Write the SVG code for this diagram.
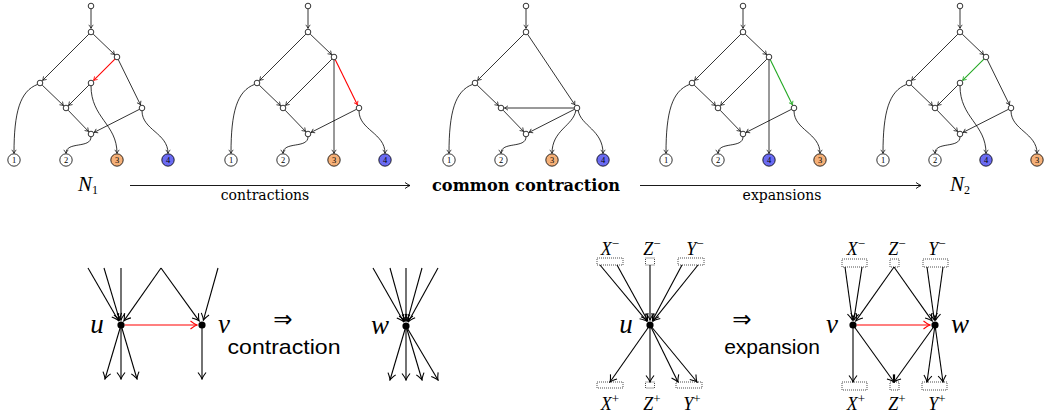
<svg xmlns="http://www.w3.org/2000/svg" width="1044" height="419" viewBox="0 0 1044 419">
<style>
.e{fill:none;stroke:#000;stroke-width:0.8;marker-end:url(#ta)}
.er{fill:none;stroke:#f00;stroke-width:1.1;marker-end:url(#tr)}
.eg{fill:none;stroke:#22a822;stroke-width:1.1;marker-end:url(#tg)}
.n{fill:#fff;stroke:#000;stroke-width:0.8}
.lf{fill:#fff;stroke:#000;stroke-width:0.8}
.o{fill:#f5b078}
.b{fill:#6b6bf2}
.lt{font-family:"Liberation Serif",serif;font-size:8.5px;text-anchor:middle}
.be{fill:none;stroke:#000;stroke-width:1.1;marker-end:url(#ba)}
.ber{fill:none;stroke:#f00;stroke-width:1.1;marker-end:url(#br)}
.bl{fill:none;stroke:#000;stroke-width:0.9;marker-end:url(#la)}
.dot{fill:#000}
.box{fill:none;stroke:#000;stroke-width:0.7;stroke-dasharray:1 1}
.mi{font-family:"Liberation Serif",serif;font-style:italic;text-anchor:middle}
.sr{font-family:"DejaVu Serif",serif;text-anchor:middle}
.ss{font-family:"Liberation Sans",sans-serif;text-anchor:middle}
.ar{font-family:"DejaVu Sans",sans-serif;text-anchor:middle}
</style>
<defs>
<marker id="ta" markerUnits="userSpaceOnUse" viewBox="-5 -3 6 6" markerWidth="6" markerHeight="6" refX="0" refY="0" orient="auto"><path d="M-3.5,-2.2Q-1,-0.4 0,0Q-1,0.4 -3.5,2.2" fill="none" stroke="#000" stroke-width="0.7"/></marker>
<marker id="tr" markerUnits="userSpaceOnUse" viewBox="-5 -3 6 6" markerWidth="6" markerHeight="6" refX="0" refY="0" orient="auto"><path d="M-3.5,-2.2Q-1,-0.4 0,0Q-1,0.4 -3.5,2.2" fill="none" stroke="#f00" stroke-width="0.8"/></marker>
<marker id="tg" markerUnits="userSpaceOnUse" viewBox="-5 -3 6 6" markerWidth="6" markerHeight="6" refX="0" refY="0" orient="auto"><path d="M-3.5,-2.2Q-1,-0.4 0,0Q-1,0.4 -3.5,2.2" fill="none" stroke="#22a822" stroke-width="0.8"/></marker>
<marker id="ba" markerUnits="userSpaceOnUse" viewBox="-8 -5 9 10" markerWidth="9" markerHeight="10" refX="0" refY="0" orient="auto"><path d="M-6.5,-4Q-2,-0.6 0,0Q-2,0.6 -6.5,4" fill="none" stroke="#000" stroke-width="1.1"/></marker>
<marker id="br" markerUnits="userSpaceOnUse" viewBox="-8 -5 9 10" markerWidth="9" markerHeight="10" refX="0" refY="0" orient="auto"><path d="M-6.5,-4Q-2,-0.6 0,0Q-2,0.6 -6.5,4" fill="none" stroke="#f00" stroke-width="1.1"/></marker>
<marker id="la" markerUnits="userSpaceOnUse" viewBox="-8 -5 9 10" markerWidth="9" markerHeight="10" refX="0" refY="0" orient="auto"><path d="M-5,-3Q-1.5,-0.5 0,0Q-1.5,0.5 -5,3" fill="none" stroke="#000" stroke-width="0.9"/></marker>
</defs>

<g id="connectors">
 <g id="c-p1">
  <path class="e" d="M91,9V28.3"/>
  <path class="e" d="M88.9,34.1L42.6,80.4"/>
  <path class="e" d="M37.6,84.4C20,91 14,112 14,153.3"/>
  <path class="e" d="M42.2,85.1L63.5,105.6"/>
  <path class="e" d="M68.1,110.2L88.6,131.5"/>
  <path class="e" d="M139.3,109.4L94.1,132.4"/>
  <path class="e" d="M91,136.8C91,149 66,141 66,153.3"/>
  <path class="e" d="M93.2,34.1L114.6,54.6"/>
  <path class="er" d="M114.9,59.1L93.6,80.4"/>
  <path class="e" d="M118.3,59.7L140.5,104.9"/>
  <path class="e" d="M88.9,85.1L68.5,105.5"/>
  <path class="e" d="M91,85.8C91,118 117,124 117,153.3"/>
  <path class="e" d="M142,110.8C142,130 168,133 168,153.3"/>
 </g>
 <g id="c-p2" transform="translate(217,0)">
  <path class="e" d="M91,9V28.3"/>
  <path class="e" d="M88.9,34.1L42.6,80.4"/>
  <path class="e" d="M37.6,84.4C20,91 14,112 14,153.3"/>
  <path class="e" d="M42.2,85.1L63.5,105.6"/>
  <path class="e" d="M68.1,110.2L88.6,131.5"/>
  <path class="e" d="M139.3,109.4L94.1,132.4"/>
  <path class="e" d="M91,136.8C91,149 66,141 66,153.3"/>
  <path class="e" d="M93.2,34.1L114.6,54.6"/>
  <path class="e" d="M114.9,59.1L68.6,105.4"/>
  <path class="e" d="M117,59.8V153.3"/>
  <path class="er" d="M118.3,59.7L140.5,104.9"/>
  <path class="e" d="M142,110.8C142,130 168,133 168,153.3"/>
 </g>
 <g id="c-p3" transform="translate(435,0)">
  <path class="e" d="M91,9V28.3"/>
  <path class="e" d="M88.9,34.1L42.6,80.4"/>
  <path class="e" d="M37.6,84.4C20,91 14,112 14,153.3"/>
  <path class="e" d="M42.2,85.1L63.5,105.6"/>
  <path class="e" d="M68.1,110.2L88.6,131.5"/>
  <path class="e" d="M139.3,109.4L94.1,132.4"/>
  <path class="e" d="M91,136.8C91,149 66,141 66,153.3"/>
  <path class="e" d="M92.6,34.3L139.9,104.9"/>
  <path class="e" d="M139.2,108H69.5"/>
  <path class="e" d="M140.8,110.6C138,126 117,130 117,153.3"/>
  <path class="e" d="M143.2,110.6C146,126 168,130 168,153.3"/>
 </g>
 <g id="c-p4" transform="translate(652,0)">
  <path class="e" d="M91,9V28.3"/>
  <path class="e" d="M88.9,34.1L42.6,80.4"/>
  <path class="e" d="M37.6,84.4C20,91 14,112 14,153.3"/>
  <path class="e" d="M42.2,85.1L63.5,105.6"/>
  <path class="e" d="M68.1,110.2L88.6,131.5"/>
  <path class="e" d="M139.3,109.4L94.1,132.4"/>
  <path class="e" d="M91,136.8C91,149 66,141 66,153.3"/>
  <path class="e" d="M93.2,34.1L114.6,54.6"/>
  <path class="e" d="M114.9,59.1L68.6,105.4"/>
  <path class="e" d="M117,59.8V153.3"/>
  <path class="eg" d="M118.3,59.7L140.5,104.9"/>
  <path class="e" d="M142,110.8C142,130 168,133 168,153.3"/>
 </g>
 <g id="c-p5" transform="translate(869,0)">
  <path class="e" d="M91,9V28.3"/>
  <path class="e" d="M88.9,34.1L42.6,80.4"/>
  <path class="e" d="M37.6,84.4C20,91 14,112 14,153.3"/>
  <path class="e" d="M42.2,85.1L63.5,105.6"/>
  <path class="e" d="M68.1,110.2L88.6,131.5"/>
  <path class="e" d="M139.3,109.4L94.1,132.4"/>
  <path class="e" d="M91,136.8C91,149 66,141 66,153.3"/>
  <path class="e" d="M93.2,34.1L114.6,54.6"/>
  <path class="eg" d="M114.9,59.1L93.6,80.4"/>
  <path class="e" d="M118.3,59.7L140.5,104.9"/>
  <path class="e" d="M88.9,85.1L68.5,105.5"/>
  <path class="e" d="M91,85.8C91,118 117,124 117,153.3"/>
  <path class="e" d="M142,110.8C142,130 168,133 168,153.3"/>
 </g>
 <g id="c-long">
  <path class="bl" d="M130,185.5H410"/>
  <path class="bl" d="M640,185.5H921"/>
 </g>
 <g id="c-contraction">
  <path class="be" d="M88,268L118.5,320.7"/>
  <path class="be" d="M104,268L119.6,320.2"/>
  <path class="be" d="M121,268V320"/>
  <path class="be" d="M161,268L123.9,320.9"/>
  <path class="be" d="M161,268L199.1,320.9"/>
  <path class="be" d="M218,268L203.4,320.2"/>
  <path class="be" d="M121,325L105,379"/>
  <path class="be" d="M121,325V379"/>
  <path class="be" d="M121,325L137,379"/>
  <path class="be" d="M202,325V379"/>
  <path class="ber" d="M124.5,325H197"/>
  <path class="be" d="M373,268L403.5,321.6"/>
  <path class="be" d="M390,268L404.7,321.2"/>
  <path class="be" d="M406,268V321"/>
  <path class="be" d="M422,268L407.3,321.2"/>
  <path class="be" d="M438,268L408.5,321.6"/>
  <path class="be" d="M406,326L390,380"/>
  <path class="be" d="M406,326V380"/>
  <path class="be" d="M406,326L422,380"/>
  <path class="be" d="M406,326L438,380"/>
 </g>
 <g id="c-expansion">
  <path class="be" d="M600,265L646.8,321.2"/>
  <path class="be" d="M617,265L647.6,320.6"/>
  <path class="be" d="M650,265V320"/>
  <path class="be" d="M682,265L652.4,320.6"/>
  <path class="be" d="M698,265L653.1,321.1"/>
  <path class="be" d="M650,325L610,382"/>
  <path class="be" d="M650,325V382"/>
  <path class="be" d="M650,325L678,382"/>
  <path class="be" d="M650,325L697,382"/>
  <path class="be" d="M845,267L852.3,320"/>
  <path class="be" d="M862,267L853.8,320.1"/>
  <path class="be" d="M894,267L855.9,320.9"/>
  <path class="be" d="M894,267L932.1,320.9"/>
  <path class="be" d="M927,267L934.3,320"/>
  <path class="be" d="M943,267L935.7,320"/>
  <path class="be" d="M853,325V382"/>
  <path class="be" d="M853,325L894,382"/>
  <path class="be" d="M935,325L894,382"/>
  <path class="be" d="M935,325L927,382"/>
  <path class="be" d="M935,325L943,382"/>
  <path class="ber" d="M856.5,325H930"/>
 </g>
</g>

<g id="panel1">
 <g id="p1-R"><circle class="n" cx="91" cy="6" r="2.8"/></g>
 <g id="p1-A"><circle class="n" cx="91" cy="32" r="2.8"/></g>
 <g id="p1-B"><circle class="n" cx="117" cy="57" r="2.8"/></g>
 <g id="p1-C"><circle class="n" cx="40" cy="83" r="2.8"/></g>
 <g id="p1-D"><circle class="n" cx="91" cy="83" r="2.8"/></g>
 <g id="p1-E"><circle class="n" cx="66" cy="108" r="2.8"/></g>
 <g id="p1-F"><circle class="n" cx="142" cy="108" r="2.8"/></g>
 <g id="p1-G"><circle class="n" cx="91" cy="134" r="2.8"/></g>
 <g id="p1-L1"><circle class="lf" cx="14" cy="160" r="6.2"/><text class="lt" x="14" y="163">1</text></g>
 <g id="p1-L2"><circle class="lf" cx="66" cy="160" r="6.2"/><text class="lt" x="66" y="163">2</text></g>
 <g id="p1-L3"><circle class="lf o" cx="117" cy="160" r="6.2"/><text class="lt" x="117" y="163">3</text></g>
 <g id="p1-L4"><circle class="lf b" cx="168" cy="160" r="6.2"/><text class="lt" x="168" y="163">4</text></g>
</g>
<g id="panel2" transform="translate(217,0)">
 <g id="p2-R"><circle class="n" cx="91" cy="6" r="2.8"/></g>
 <g id="p2-A"><circle class="n" cx="91" cy="32" r="2.8"/></g>
 <g id="p2-B"><circle class="n" cx="117" cy="57" r="2.8"/></g>
 <g id="p2-C"><circle class="n" cx="40" cy="83" r="2.8"/></g>
 <g id="p2-E"><circle class="n" cx="66" cy="108" r="2.8"/></g>
 <g id="p2-F"><circle class="n" cx="142" cy="108" r="2.8"/></g>
 <g id="p2-G"><circle class="n" cx="91" cy="134" r="2.8"/></g>
 <g id="p2-L1"><circle class="lf" cx="14" cy="160" r="6.2"/><text class="lt" x="14" y="163">1</text></g>
 <g id="p2-L2"><circle class="lf" cx="66" cy="160" r="6.2"/><text class="lt" x="66" y="163">2</text></g>
 <g id="p2-L3"><circle class="lf o" cx="117" cy="160" r="6.2"/><text class="lt" x="117" y="163">3</text></g>
 <g id="p2-L4"><circle class="lf b" cx="168" cy="160" r="6.2"/><text class="lt" x="168" y="163">4</text></g>
</g>
<g id="panel3" transform="translate(435,0)">
 <g id="p3-R"><circle class="n" cx="91" cy="6" r="2.8"/></g>
 <g id="p3-A"><circle class="n" cx="91" cy="32" r="2.8"/></g>
 <g id="p3-C"><circle class="n" cx="40" cy="83" r="2.8"/></g>
 <g id="p3-E"><circle class="n" cx="66" cy="108" r="2.8"/></g>
 <g id="p3-F"><circle class="n" cx="142" cy="108" r="2.8"/></g>
 <g id="p3-G"><circle class="n" cx="91" cy="134" r="2.8"/></g>
 <g id="p3-L1"><circle class="lf" cx="14" cy="160" r="6.2"/><text class="lt" x="14" y="163">1</text></g>
 <g id="p3-L2"><circle class="lf" cx="66" cy="160" r="6.2"/><text class="lt" x="66" y="163">2</text></g>
 <g id="p3-L3"><circle class="lf o" cx="117" cy="160" r="6.2"/><text class="lt" x="117" y="163">3</text></g>
 <g id="p3-L4"><circle class="lf b" cx="168" cy="160" r="6.2"/><text class="lt" x="168" y="163">4</text></g>
</g>
<g id="panel4" transform="translate(652,0)">
 <g id="p4-R"><circle class="n" cx="91" cy="6" r="2.8"/></g>
 <g id="p4-A"><circle class="n" cx="91" cy="32" r="2.8"/></g>
 <g id="p4-B"><circle class="n" cx="117" cy="57" r="2.8"/></g>
 <g id="p4-C"><circle class="n" cx="40" cy="83" r="2.8"/></g>
 <g id="p4-E"><circle class="n" cx="66" cy="108" r="2.8"/></g>
 <g id="p4-F"><circle class="n" cx="142" cy="108" r="2.8"/></g>
 <g id="p4-G"><circle class="n" cx="91" cy="134" r="2.8"/></g>
 <g id="p4-L1"><circle class="lf" cx="14" cy="160" r="6.2"/><text class="lt" x="14" y="163">1</text></g>
 <g id="p4-L2"><circle class="lf" cx="66" cy="160" r="6.2"/><text class="lt" x="66" y="163">2</text></g>
 <g id="p4-L4"><circle class="lf b" cx="117" cy="160" r="6.2"/><text class="lt" x="117" y="163">4</text></g>
 <g id="p4-L3"><circle class="lf o" cx="168" cy="160" r="6.2"/><text class="lt" x="168" y="163">3</text></g>
</g>
<g id="panel5" transform="translate(869,0)">
 <g id="p5-R"><circle class="n" cx="91" cy="6" r="2.8"/></g>
 <g id="p5-A"><circle class="n" cx="91" cy="32" r="2.8"/></g>
 <g id="p5-B"><circle class="n" cx="117" cy="57" r="2.8"/></g>
 <g id="p5-C"><circle class="n" cx="40" cy="83" r="2.8"/></g>
 <g id="p5-D"><circle class="n" cx="91" cy="83" r="2.8"/></g>
 <g id="p5-E"><circle class="n" cx="66" cy="108" r="2.8"/></g>
 <g id="p5-F"><circle class="n" cx="142" cy="108" r="2.8"/></g>
 <g id="p5-G"><circle class="n" cx="91" cy="134" r="2.8"/></g>
 <g id="p5-L1"><circle class="lf" cx="14" cy="160" r="6.2"/><text class="lt" x="14" y="163">1</text></g>
 <g id="p5-L2"><circle class="lf" cx="66" cy="160" r="6.2"/><text class="lt" x="66" y="163">2</text></g>
 <g id="p5-L4"><circle class="lf b" cx="117" cy="160" r="6.2"/><text class="lt" x="117" y="163">4</text></g>
 <g id="p5-L3"><circle class="lf o" cx="168" cy="160" r="6.2"/><text class="lt" x="168" y="163">3</text></g>
</g>

<g id="labels-top">
 <text class="mi" x="88" y="191" font-size="21">N<tspan font-size="12" dy="3" font-style="normal">1</tspan></text>
 <text class="mi" x="960" y="191" font-size="21">N<tspan font-size="12" dy="3" font-style="normal">2</tspan></text>
 <text class="sr" x="265" y="200" font-size="14">contractions</text>
 <text class="sr" x="526" y="191" font-size="16" font-weight="bold" textLength="188" lengthAdjust="spacingAndGlyphs">common contraction</text>
 <text class="sr" x="782" y="200" font-size="14">expansions</text>
</g>

<g id="contraction-diagram">
 <g id="n-u1"><circle class="dot" cx="121" cy="325" r="3.6"/><text class="mi" x="97" y="333" font-size="27">u</text></g>
 <g id="n-v1"><circle class="dot" cx="202" cy="325" r="3.6"/><text class="mi" x="224" y="333" font-size="27">v</text></g>
 <text class="ar" x="283" y="327" font-size="23">⇒</text>
 <text class="ss" x="284" y="354" font-size="21" textLength="113" lengthAdjust="spacingAndGlyphs">contraction</text>
 <g id="n-w1"><circle class="dot" cx="406" cy="326" r="3.6"/><text class="mi" x="380" y="334" font-size="27">w</text></g>
</g>

<g id="expansion-diagram">
 <g id="n-u2"><circle class="dot" cx="650" cy="325" r="3.6"/><text class="mi" x="626" y="333" font-size="27">u</text></g>
 <text class="ar" x="742" y="327" font-size="23">⇒</text>
 <text class="ss" x="772" y="354" font-size="21">expansion</text>
 <g id="n-v2"><circle class="dot" cx="853" cy="325" r="3.6"/><text class="mi" x="832" y="333" font-size="27">v</text></g>
 <g id="n-w2"><circle class="dot" cx="935" cy="325" r="3.6"/><text class="mi" x="960" y="333" font-size="27">w</text></g>
 <g id="boxes">
  <rect class="box" x="597" y="258" width="26" height="7"/>
  <rect class="box" x="645.5" y="258" width="9" height="7"/>
  <rect class="box" x="678" y="258" width="26" height="7"/>
  <rect class="box" x="597" y="382" width="26" height="6"/>
  <rect class="box" x="645.5" y="382" width="9" height="6"/>
  <rect class="box" x="676" y="382" width="26" height="6"/>
  <rect class="box" x="842" y="259" width="25" height="8"/>
  <rect class="box" x="890" y="259" width="9" height="8"/>
  <rect class="box" x="923" y="259" width="25" height="8"/>
  <rect class="box" x="842" y="382" width="25" height="8"/>
  <rect class="box" x="890" y="382" width="9" height="8"/>
  <rect class="box" x="922" y="382" width="25" height="8"/>
 </g>
 <g id="set-labels" font-size="18">
  <text class="mi" x="610" y="255">X<tspan font-size="13" dy="-7" font-style="normal">−</tspan></text>
  <text class="mi" x="652" y="255">Z<tspan font-size="13" dy="-7" font-style="normal">−</tspan></text>
  <text class="mi" x="695" y="255">Y<tspan font-size="13" dy="-7" font-style="normal">−</tspan></text>
  <text class="mi" x="610" y="410">X<tspan font-size="13" dy="-7" font-style="normal">+</tspan></text>
  <text class="mi" x="652" y="410">Z<tspan font-size="13" dy="-7" font-style="normal">+</tspan></text>
  <text class="mi" x="692" y="410">Y<tspan font-size="13" dy="-7" font-style="normal">+</tspan></text>
  <text class="mi" x="856" y="255">X<tspan font-size="13" dy="-7" font-style="normal">−</tspan></text>
  <text class="mi" x="897" y="255">Z<tspan font-size="13" dy="-7" font-style="normal">−</tspan></text>
  <text class="mi" x="937" y="255">Y<tspan font-size="13" dy="-7" font-style="normal">−</tspan></text>
  <text class="mi" x="856" y="410">X<tspan font-size="13" dy="-7" font-style="normal">+</tspan></text>
  <text class="mi" x="897" y="410">Z<tspan font-size="13" dy="-7" font-style="normal">+</tspan></text>
  <text class="mi" x="937" y="410">Y<tspan font-size="13" dy="-7" font-style="normal">+</tspan></text>
 </g>
</g>
</svg>
